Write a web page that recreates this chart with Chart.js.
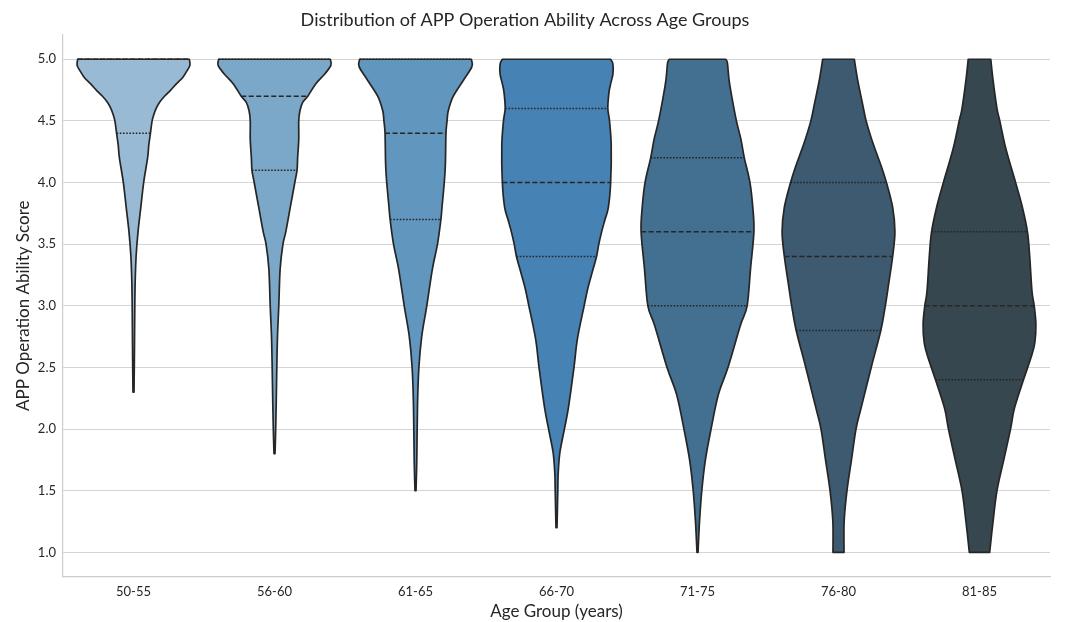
<!DOCTYPE html>
<html>
<head>
<meta charset="utf-8">
<title>APP Operation Ability by Age Group</title>
<script src="https://cdn.jsdelivr.net/npm/chart.js@4.4.1/dist/chart.umd.min.js"></script>
<style>
  html, body { margin: 0; padding: 0; background: #fff; }
  #wrap { width: 1065px; height: 622px; }
</style>
</head>
<body>
<div id="wrap"><canvas id="violinChart" width="1065" height="622"></canvas></div>
<script>
// Age groups on the x axis
const ageGroups = ['50-55', '56-60', '61-65', '66-70', '71-75', '76-80', '81-85'];

// Quartiles per group (inner lines)
const lowerQuartiles = [4.4, 4.1, 3.7, 3.4, 3.0, 2.8, 2.4];
const medians        = [5.0, 4.7, 4.4, 4.0, 3.6, 3.4, 3.0];
const upperQuartiles = [5.0, 5.0, 5.0, 4.6, 4.2, 4.0, 3.6];

// Density outline per group: score levels (top to bottom) and relative density at each level
const scoreLevels = [
    [5.0, 4.95, 4.9, 4.85, 4.8, 4.75, 4.7, 4.65, 4.6, 4.55, 4.5, 4.4, 4.3, 4.2, 4.0, 3.8, 3.6, 3.4, 3.2, 3.0, 2.7, 2.5, 2.3],
    [5.0, 4.95, 4.88, 4.8, 4.7, 4.65, 4.58, 4.5, 4.35, 4.2, 4.1, 4.0, 3.8, 3.6, 3.5, 3.3, 3.0, 2.75, 2.5, 2.2, 2.0, 1.8],
    [5.0, 4.94, 4.83, 4.7, 4.58, 4.5, 4.4, 4.15, 4.0, 3.8, 3.7, 3.5, 3.3, 3.0, 2.75, 2.5, 2.2, 1.75, 1.5],
    [5.0, 4.96, 4.88, 4.8, 4.73, 4.6, 4.5, 4.3, 4.0, 3.8, 3.7, 3.6, 3.5, 3.4, 3.3, 3.15, 3.0, 2.73, 2.5, 2.17, 2.0, 1.81, 1.64, 1.5, 1.2],
    [5.0, 4.97, 4.83, 4.69, 4.5, 4.35, 4.2, 4.0, 3.8, 3.6, 3.3, 3.0, 2.84, 2.5, 2.28, 2.0, 1.75, 1.5, 1.25, 1.0],
    [5.0, 4.83, 4.63, 4.5, 4.32, 4.13, 4.0, 3.8, 3.6, 3.4, 3.15, 3.0, 2.8, 2.5, 2.17, 2.0, 1.75, 1.5, 1.25, 1.0],
    [5.0, 4.83, 4.6, 4.5, 4.27, 4.0, 3.8, 3.6, 3.4, 3.12, 3.0, 2.85, 2.7, 2.59, 2.4, 2.17, 2.0, 1.75, 1.5, 1.25, 1.0]
];
const densities = [
    [0.99, 1.0, 0.94, 0.87, 0.76, 0.66, 0.55, 0.46, 0.40, 0.36, 0.33, 0.30, 0.27, 0.25, 0.18, 0.13, 0.08, 0.046, 0.03, 0.023, 0.018, 0.014, 0.009],
    [0.99, 1.0, 0.89, 0.73, 0.59, 0.50, 0.45, 0.43, 0.43, 0.41, 0.40, 0.36, 0.28, 0.20, 0.15, 0.10, 0.076, 0.053, 0.041, 0.03, 0.021, 0.009],
    [0.99, 1.0, 0.85, 0.67, 0.58, 0.56, 0.54, 0.53, 0.51, 0.47, 0.45, 0.39, 0.30, 0.20, 0.11, 0.06, 0.036, 0.023, 0.009],
    [0.96, 1.0, 1.0, 0.96, 0.93, 0.91, 0.94, 0.97, 0.96, 0.92, 0.86, 0.80, 0.75, 0.71, 0.65, 0.56, 0.49, 0.37, 0.31, 0.21, 0.14, 0.06, 0.03, 0.023, 0.009],
    [0.50, 0.53, 0.56, 0.61, 0.69, 0.77, 0.83, 0.93, 0.98, 1.0, 0.94, 0.88, 0.76, 0.54, 0.37, 0.24, 0.14, 0.076, 0.036, 0.009],
    [0.28, 0.34, 0.43, 0.49, 0.61, 0.76, 0.85, 0.96, 1.0, 0.96, 0.88, 0.83, 0.75, 0.58, 0.40, 0.31, 0.23, 0.15, 0.10, 0.098],
    [0.20, 0.24, 0.31, 0.36, 0.47, 0.64, 0.76, 0.85, 0.89, 0.93, 0.97, 1.0, 0.98, 0.92, 0.78, 0.62, 0.55, 0.43, 0.31, 0.24, 0.18]
];

const violinColors = ['#98bad4', '#7ba7c8', '#6197be', '#4682b3', '#436f91', '#3d5a70', '#37474f'];
const yTickValues = [1.0, 1.5, 2.0, 2.5, 3.0, 3.5, 4.0, 4.5, 5.0];

const FONT = 'Lato, "Noto Sans", sans-serif';
const INK = '#262626';
const HALF_WIDTH = 0.4; // in category units

// width of violin i at a score, linear between outline levels
function densityAt(i, v) {
    const lv = scoreLevels[i], d = densities[i];
    if (v >= lv[0]) return d[0];
    for (let k = 1; k < lv.length; k++) {
        if (v >= lv[k]) {
            const t = (v - lv[k]) / (lv[k - 1] - lv[k]);
            return d[k] + t * (d[k - 1] - d[k]);
        }
    }
    return d[d.length - 1];
}

// smooth curve through points (catmull-rom -> bezier)
function curveThrough(ctx, pts) {
    for (let i = 0; i < pts.length - 1; i++) {
        const p0 = pts[Math.max(i - 1, 0)], p1 = pts[i], p2 = pts[i + 1], p3 = pts[Math.min(i + 2, pts.length - 1)];
        ctx.bezierCurveTo(
            p1.x + (p2.x - p0.x) / 6, p1.y + (p2.y - p0.y) / 6,
            p2.x - (p3.x - p1.x) / 6, p2.y - (p3.y - p1.y) / 6,
            p2.x, p2.y
        );
    }
}

const violinPlugin = {
    id: 'violins',
    beforeDatasetsDraw(chart) {
        const ctx = chart.ctx;
        const xs = chart.scales.x, ys = chart.scales.y;
        const unit = xs.getPixelForValue(1) - xs.getPixelForValue(0);
        const maxW = unit * HALF_WIDTH;

        ageGroups.forEach((g, i) => {
            const cx = xs.getPixelForValue(i);
            const right = scoreLevels[i].map((v, k) => ({ x: cx + densities[i][k] * maxW, y: ys.getPixelForValue(v) }));
            const left = right.map(p => ({ x: 2 * cx - p.x, y: p.y })).reverse();

            ctx.save();
            ctx.beginPath();
            ctx.moveTo(right[0].x, right[0].y);
            curveThrough(ctx, right);
            ctx.lineTo(left[0].x, left[0].y);
            curveThrough(ctx, left);
            ctx.closePath();
            ctx.fillStyle = violinColors[i];
            ctx.fill();

            // quartile lines: dotted quartiles, dashed median
            const lines = [
                { v: lowerQuartiles[i], dash: [1.6, 1.6] },
                { v: medians[i], dash: [5, 2.5] },
                { v: upperQuartiles[i], dash: [1.6, 1.6] }
            ];
            ctx.strokeStyle = INK;
            lines.forEach(l => {
                const w = densityAt(i, l.v) * maxW;
                const y = ys.getPixelForValue(l.v);
                ctx.beginPath();
                ctx.setLineDash(l.dash);
                ctx.lineWidth = 1.5;
                ctx.moveTo(cx - w, y);
                ctx.lineTo(cx + w, y);
                ctx.stroke();
            });

            // outline on top
            ctx.setLineDash([]);
            ctx.beginPath();
            ctx.moveTo(right[0].x, right[0].y);
            curveThrough(ctx, right);
            ctx.lineTo(left[0].x, left[0].y);
            curveThrough(ctx, left);
            ctx.closePath();
            ctx.lineWidth = 1.7;
            ctx.lineJoin = 'round';
            ctx.stroke();
            ctx.restore();
        });
    }
};

new Chart(document.getElementById('violinChart').getContext('2d'), {
    type: 'line',
    data: {
        labels: ageGroups,
        datasets: [{
            label: 'Median',
            data: medians,
            showLine: false,
            pointRadius: 0,
            pointHoverRadius: 0
        }]
    },
    options: {
        responsive: false,
        animation: false,
        events: [],
        layout: { padding: { left: 0, right: 15, top: 0, bottom: 0 } },
        plugins: {
            legend: { display: false },
            tooltip: { enabled: false },
            title: {
                display: true,
                text: 'Distribution of APP Operation Ability Across Age Groups',
                color: INK,
                font: { family: FONT, size: 18, weight: 'normal' },
                padding: { top: 9, bottom: 4 }
            }
        },
        scales: {
            x: {
                type: 'category',
                offset: true,
                grid: { display: false, drawTicks: false },
                border: { display: true, color: '#cccccc', width: 1.2 },
                ticks: { color: INK, font: { family: FONT, size: 13 }, padding: 7 },
                title: {
                    display: true,
                    text: 'Age Group (years)',
                    color: INK,
                    font: { family: FONT, size: 17 },
                    padding: { top: 1, bottom: 0 }
                },
                afterFit(s) { s.height = 45; }
            },
            y: {
                min: 0.8,
                max: 5.2,
                afterBuildTicks(s) { s.ticks = yTickValues.map(v => ({ value: v })); },
                grid: { color: '#d4d4d4', lineWidth: 1.1, drawTicks: false },
                border: { display: true, color: '#cccccc', width: 1.2 },
                ticks: {
                    color: INK,
                    font: { family: FONT, size: 13 },
                    padding: 7,
                    callback: v => Number(v).toFixed(1)
                },
                title: {
                    display: true,
                    text: 'APP Operation Ability Score',
                    color: INK,
                    font: { family: FONT, size: 17 },
                    padding: { top: 13, bottom: 4 }
                },
                afterFit(s) { s.width = 63; }
            }
        }
    },
    plugins: [violinPlugin]
});
</script>
</body>
</html>
